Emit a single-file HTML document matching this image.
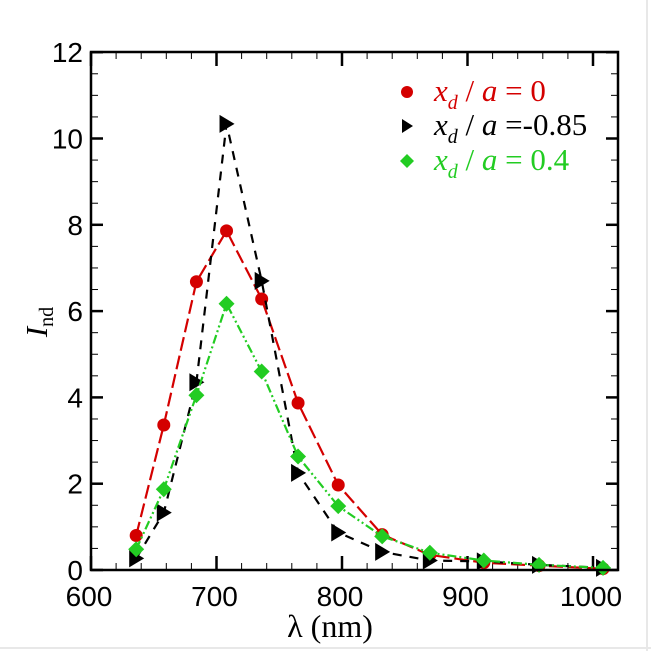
<!DOCTYPE html>
<html><head><meta charset="utf-8"><style>
body{margin:0;background:#fff}
svg{display:block;font-family:"Liberation Sans",sans-serif}
</style></head><body>
<svg id="c" width="651" height="651" viewBox="0 0 651 651">
<rect x="0" y="0" width="651" height="651" fill="#fff"/>
<line x1="647" y1="0" x2="647" y2="651" stroke="#e8e8e8" stroke-width="2"/>
<line x1="0" y1="648" x2="651" y2="648" stroke="#e8e8e8" stroke-width="2"/>
<g id="ticks"></g>
<g id="series"></g>
<rect x="91" y="52" width="527" height="518" fill="none" stroke="#000" stroke-width="2.5"/>
<text x="330" y="637" font-family="Liberation Serif" font-size="32" text-anchor="middle">λ (nm)</text>
<text transform="translate(47,322) rotate(-90)" font-family="Liberation Serif" font-size="31" text-anchor="middle"><tspan font-style="italic">I</tspan><tspan font-size="20" dy="6">nd</tspan></text>
<g font-family="Liberation Serif" font-size="31">
 <g>
  <circle cx="407" cy="92" r="6" fill="#d40000"/>
  <text x="434" y="101" fill="#d40000"><tspan font-style="italic">x</tspan><tspan font-style="italic" font-size="20" dy="8">d</tspan><tspan dy="-8"> / </tspan><tspan font-style="italic">a</tspan><tspan> = 0</tspan></text>
 </g>
 <g>
  <path d="M402,119 L413,126 L402,133 Z" fill="#000"/>
  <text x="434" y="135" fill="#000"><tspan font-style="italic">x</tspan><tspan font-style="italic" font-size="20" dy="8">d</tspan><tspan dy="-8"> / </tspan><tspan font-style="italic">a</tspan><tspan> =-0.85</tspan></text>
 </g>
 <g>
  <path d="M407,154 L414,161 L407,168 L400,161 Z" fill="#22cc22"/>
  <text x="434" y="170" fill="#22cc22"><tspan font-style="italic">x</tspan><tspan font-style="italic" font-size="20" dy="8">d</tspan><tspan dy="-8"> / </tspan><tspan font-style="italic">a</tspan><tspan> = 0.4</tspan></text>
 </g>
</g>
</svg>
<script>
const lambdas=[636,658,684,708,736,765,797,832,870,913,957,1008];
const redVals=[0.8,3.36,6.68,7.86,6.28,3.87,1.97,0.82,0.35,0.17,0.1,0.03];
const blackVals=[0.27,1.33,4.35,10.34,6.7,2.25,0.87,0.42,0.22,0.2,0.12,0.05];
const greenVals=[0.48,1.87,4.05,6.17,4.6,2.63,1.48,0.78,0.4,0.22,0.12,0.05];
const xTicks=[600,700,800,900,1000];
const yTicks=[0,2,4,6,8,10,12];
const NS='http://www.w3.org/2000/svg';
function X(v){return 91+(v-600)*1.255;}
function Y(v){return 570-v*43.15;}
function mk(t,a,p){const e=document.createElementNS(NS,t);for(const k in a)e.setAttribute(k,a[k]);p.appendChild(e);return e;}
const tg=document.getElementById('ticks');
for(let v=600;v<=1020;v+=20){
 const major=v%100===0;const L=major?14:7;
 const t1=mk('line',{x1:X(v),x2:X(v),y1:570,y2:570-L,stroke:'#000','stroke-width':major?2.5:1},tg);
 
 
 const t2=mk('line',{x1:X(v),x2:X(v),y1:52,y2:52+L,stroke:'#000','stroke-width':major?2.5:1},tg);
 
 
}
for(let v=0;v<=12;v+=0.5){
 const major=v%2===0;const L=major?12:7;
 const t1=mk('line',{x1:91,x2:91+L,y1:Y(v),y2:Y(v),stroke:'#000','stroke-width':major?2.5:1},tg);
 
 
 const t2=mk('line',{x1:618,x2:618-L,y1:Y(v),y2:Y(v),stroke:'#000','stroke-width':major?2.5:1},tg);
 
 
}
xTicks.forEach(v=>{const t=mk('text',{x:X(v)-2,y:606,'font-size':28,'text-anchor':'middle'},tg);t.textContent=v;
 
 });
yTicks.forEach(v=>{const t=mk('text',{x:83,y:Y(v)+10,'font-size':28,'text-anchor':'end'},tg);t.textContent=v;
 
 });
const sg=document.getElementById('series');
function series(vals,color,dash,marker,name){
 const g=mk('g',{},sg);
 
 
 const pts=lambdas.map((l,i)=>X(l)+','+Y(vals[i])).join(' ');
 mk('polyline',{points:pts,fill:'none',stroke:color,'stroke-width':2.2,'stroke-dasharray':dash},g);
 lambdas.forEach((l,i)=>{const x=X(l),y=Y(vals[i]);let m;
  if(marker==='c')m=mk('circle',{cx:x,cy:y,r:6.5,fill:color},g);
  else if(marker==='t')m=mk('path',{d:`M${x-7},${y-9} L${x+8},${y} L${x-7},${y+9} Z`,fill:color},g);
  else m=mk('path',{d:`M${x},${y-8} L${x+8},${y} L${x},${y+8} L${x-8},${y} Z`,fill:color},g);
  
  });
}
series(redVals,'#d40000','14 5','c','series-xd0');
series(blackVals,'#000','9 8','t','series-xd-085');
series(greenVals,'#22cc22','9 3 2 3 2 3','d','series-xd04');
</script>
</body></html>
